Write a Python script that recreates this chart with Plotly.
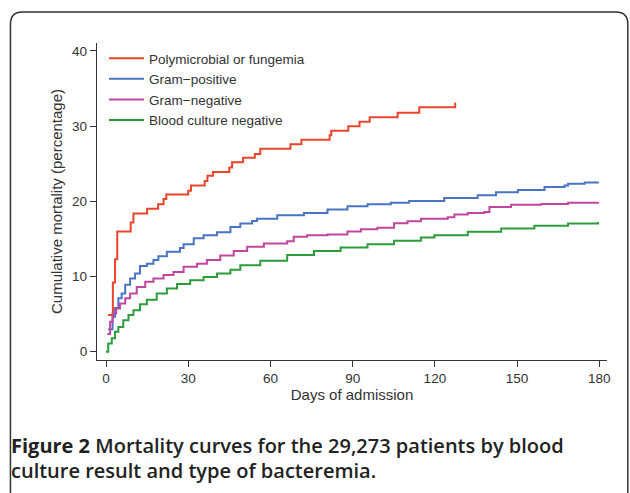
import plotly.graph_objects as go

# ---- data ----
series_names = ["Polymicrobial or fungemia", "Gram\u2212positive", "Gram\u2212negative", "Blood culture negative"]

poly_days = [0.7, 2.5, 3.3, 4.1, 9.0, 10.0, 15.0, 19.0, 21.0, 22.0, 30.0, 31.0, 36.0, 37.0, 39.0,
             45.0, 46.0, 50.0, 54.3, 56.3, 67.3, 71.3, 81.6, 82.2, 88.4, 92.5, 96.2, 106.4, 114.3, 127.4]
poly_vals = [4.9, 9.2, 12.3, 16.0, 17.2, 18.4, 19.0, 19.6, 20.3, 20.9, 21.4, 22.1, 22.7, 23.4, 23.9,
             24.5, 25.2, 25.8, 26.3, 27.0, 27.6, 28.2, 28.8, 29.4, 30.0, 30.6, 31.2, 31.8, 32.5, 33.1]

gpos_days = [0.8, 2.4, 3.3, 4.5, 5.7, 7.0, 8.8, 10.6, 12.4, 14.9, 17.3, 19.1, 22.2, 27.0, 28.3, 32.0,
             35.6, 40.5, 45.4, 49.0, 53.3, 55.1, 62.5, 72.2, 80.8, 88.1, 95.4, 103.9, 110.6, 123.4,
             135.6, 142.3, 150.3, 160.0, 167.3, 168.6, 174.7, 179.5]
gpos_vals = [3.0, 4.65, 5.8, 7.1, 7.75, 8.9, 9.75, 10.4, 11.4, 11.7, 12.2, 12.7, 13.3, 13.8, 14.3, 15.1,
             15.5, 15.9, 16.6, 17.05, 17.4, 17.7, 18.15, 18.45, 18.9, 19.35, 19.6, 19.8, 20.05, 20.45,
             20.8, 21.2, 21.5, 21.9, 22.1, 22.35, 22.5, 22.6]

gneg_days = [0.5, 1.5, 2.4, 3.7, 5.1, 7.0, 8.8, 11.2, 14.3, 17.3, 21.0, 24.6, 28.3, 33.2, 36.8, 41.7,
             46.6, 51.5, 57.6, 66.1, 68.5, 73.4, 80.8, 88.1, 93.0, 99.0, 105.1, 110.0, 114.9, 124.7,
             127.1, 132.0, 138.1, 139.9, 147.8, 158.8, 168.6, 179.5]
gneg_vals = [2.35, 4.0, 5.1, 5.75, 6.4, 7.1, 7.75, 8.6, 9.3, 9.75, 10.2, 10.6, 11.3, 11.7, 12.2, 12.8,
             13.4, 13.95, 14.4, 14.7, 15.3, 15.5, 15.6, 16.0, 16.3, 16.5, 17.1, 17.35, 17.7, 17.9,
             18.25, 18.45, 18.6, 19.25, 19.55, 19.65, 19.8, 19.9]

neg_days = [0, 0.8, 2.1, 3.3, 4.5, 6.3, 8.2, 10.0, 12.4, 14.9, 18.5, 22.2, 25.9, 30.7, 35.6, 40.5,
            45.4, 49.0, 56.3, 66.1, 75.9, 85.6, 95.4, 105.1, 114.9, 119.8, 132.0, 144.2, 156.3, 168.6, 179.5]
neg_vals = [0, 1.1, 1.8, 2.65, 3.3, 4.2, 4.9, 5.5, 6.3, 6.9, 7.75, 8.4, 9.0, 9.5, 9.95, 10.4,
            10.9, 11.5, 12.1, 12.85, 13.4, 13.85, 14.3, 14.75, 15.2, 15.5, 15.95, 16.4, 16.75, 17.05, 17.25]

x_ticks = [0, 30, 60, 90, 120, 150, 180]
y_ticks = [0, 10, 20, 30, 40]

colors = ["#E8452C", "#4A74C4", "#C2469E", "#2E9B3C"]

x_title = "Days of admission"
y_title = "Cumulative mortality (percentage)"
caption_1 = "<b>Figure 2</b> Mortality curves for the 29,273 patients by blood"
caption_2 = "culture result and type of bacteremia."

# ---- layout geometry (pixels) ----
W, H = 630, 493
L, R, T, B = 97, 606.7, 43, 360


def px(xp):
    return (xp - L) / (R - L)


def py(yp):
    return (B - yp) / (B - T)


fig = go.Figure()
all_series = [(poly_days, poly_vals), (gpos_days, gpos_vals), (gneg_days, gneg_vals), (neg_days, neg_vals)]
for (d, v), name, c in zip(all_series, series_names, colors):
    fig.add_trace(go.Scatter(x=d, y=v, mode="lines", name=name, line=dict(color=c, width=2, shape="hv")))

base = "Liberation Sans, Arial, sans-serif"
tick_font = dict(family=base, size=13.5, color="#333333")
title_font = dict(family=base, size=15, color="#333333")

fig.update_layout(
    width=W, height=H,
    margin=dict(l=L, r=W - R, t=T, b=H - B, pad=0, autoexpand=False),
    paper_bgcolor="white", plot_bgcolor="white",
    font=tick_font,
    showlegend=True,
    legend=dict(x=px(104), y=py(43), xanchor="left", yanchor="top", bgcolor="rgba(0,0,0,0)",
                font=dict(family=base, size=13.5, color="#333333"), itemwidth=35,
                borderwidth=0, tracegroupgap=0),
    xaxis=dict(range=[-3.29, 182.8], tickvals=x_ticks, ticks="outside", ticklen=6, tickwidth=1.3,
               tickcolor="#333333", showline=True, linecolor="#333333", linewidth=1.3,
               showgrid=False, zeroline=False, automargin=False, tickfont=tick_font,
               title=dict(text=x_title, standoff=3, font=title_font)),
    yaxis=dict(range=[-1.1, 41.06], tickvals=y_ticks, ticks="outside", ticklen=6, tickwidth=1.3,
               tickcolor="#333333", showline=True, linecolor="#333333", linewidth=1.3,
               showgrid=False, zeroline=False, automargin=False, tickfont=tick_font,
               title=dict(text=y_title, standoff=5, font=title_font)),
)

# rounded frame around the figure
bx0, by0, bx1, by1, rr = 10.5, 12, 627.5, 520, 12
path = (f"M {px(bx0)},{py(by1)} L {px(bx0)},{py(by0 + rr)} "
        f"Q {px(bx0)},{py(by0)} {px(bx0 + rr)},{py(by0)} "
        f"L {px(bx1 - rr)},{py(by0)} "
        f"Q {px(bx1)},{py(by0)} {px(bx1)},{py(by0 + rr)} "
        f"L {px(bx1)},{py(by1)}")
fig.add_shape(type="path", path=path, xref="paper", yref="paper",
              line=dict(color="#333333", width=1.5))

cap_font = dict(family="Open Sans, sans-serif", size=20, color="#222222", weight=600)
fig.add_annotation(text=caption_1, x=px(9), y=py(445), xref="paper", yref="paper",
                   xanchor="left", yanchor="middle", showarrow=False, font=cap_font)
fig.add_annotation(text=caption_2, x=px(9), y=py(470), xref="paper", yref="paper",
                   xanchor="left", yanchor="middle", showarrow=False, font=cap_font)

# remove the default page margin so the figure sits at the window origin
fig.write_html("out.html", config={"displayModeBar": False},
               post_script="document.body.style.margin='0';document.body.style.overflow='hidden';")
